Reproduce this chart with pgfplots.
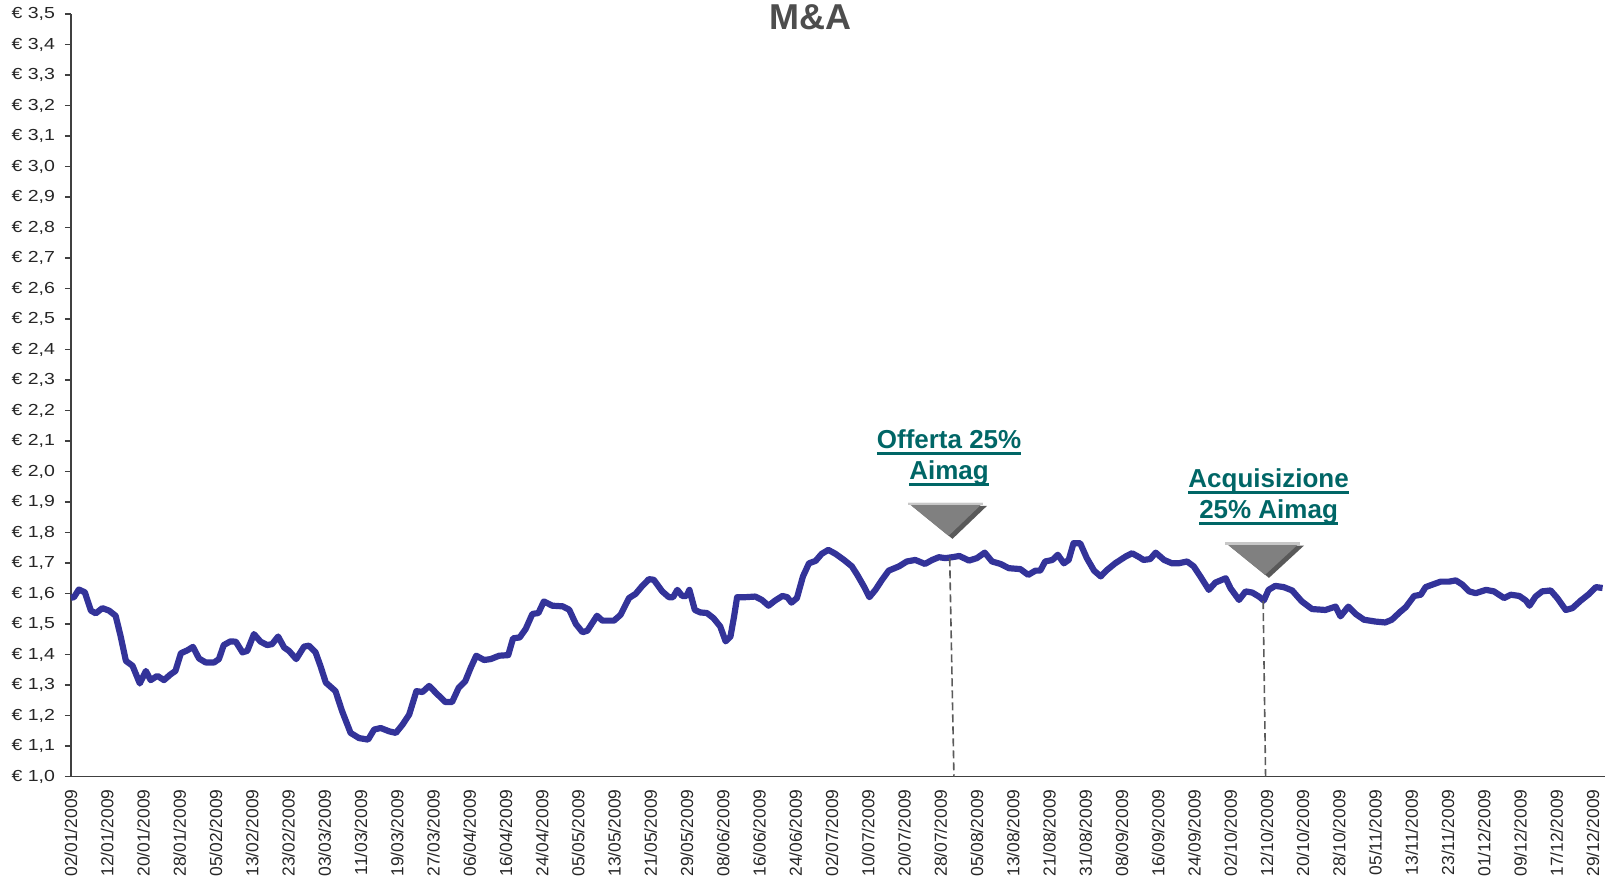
\documentclass[border=0pt]{standalone}
\usepackage{fontspec}
\setmainfont{Liberation Sans}
\usepackage{graphicx}
\usepackage{pgfplots}
\pgfplotsset{compat=1.18}
\usepackage{pgfplotstable}

\definecolor{linea}{RGB}{51,51,153}
\definecolor{verde}{RGB}{0,102,102}
\definecolor{titolo}{RGB}{77,77,77}
\definecolor{tratt}{RGB}{90,90,90}

% underline thick, like the Excel callouts
\newcommand\sott[1]{\setbox0\hbox{#1}\rlap{\rule[-3.4pt]{\wd0}{1.3pt}}\box0}

% trading day index, price
\pgfplotstableread{
x v
0 1.586
0.5 1.588
1.3 1.613
2.3 1.604
3.3 1.544
4.1 1.535
5.2 1.552
6.3 1.544
7.4 1.527
8.2 1.462
9.1 1.379
10.2 1.363
11.4 1.305
12.4 1.346
13.2 1.316
14.3 1.330
15.4 1.316
16.5 1.335
17.3 1.346
18.2 1.404
19.3 1.414
20.2 1.425
21.2 1.387
22.3 1.374
23.7 1.374
24.5 1.385
25.3 1.431
26.4 1.443
27.3 1.442
28.4 1.407
29.2 1.412
30.3 1.467
31.4 1.442
32.5 1.431
33.3 1.434
34.3 1.459
35.3 1.423
36.1 1.412
37.3 1.385
38.6 1.426
39.4 1.429
40.5 1.407
41.3 1.363
42.2 1.308
43.8 1.280
44.9 1.214
46.3 1.143
47.7 1.126
49.2 1.121
50.2 1.154
51.3 1.159
52.7 1.148
53.8 1.143
54.9 1.170
56.0 1.203
57.2 1.280
58.2 1.277
59.3 1.297
60.7 1.269
62.0 1.244
63.1 1.244
64.2 1.291
65.3 1.313
66.2 1.357
67.1 1.396
68.4 1.382
69.5 1.385
70.9 1.396
72.4 1.398
73.2 1.453
74.3 1.456
75.3 1.484
76.4 1.533
77.4 1.536
78.3 1.574
79.7 1.560
81.4 1.558
82.5 1.547
83.6 1.500
84.7 1.473
85.5 1.478
87.1 1.527
88.0 1.511
89.9 1.511
91.0 1.530
92.4 1.585
93.5 1.599
94.6 1.625
95.7 1.647
96.5 1.645
97.9 1.607
99.0 1.588
99.7 1.588
100.4 1.612
101.2 1.592
101.9 1.592
102.4 1.612
103.3 1.546
104.2 1.538
105.3 1.536
106.4 1.519
107.5 1.492
108.4 1.443
109.2 1.459
109.8 1.525
110.3 1.588
111.7 1.588
113.3 1.590
114.4 1.579
115.5 1.560
116.6 1.577
117.8 1.592
118.6 1.588
119.3 1.570
120.2 1.585
121.2 1.656
122.2 1.699
123.3 1.707
124.3 1.730
125.4 1.743
126.6 1.730
128.0 1.710
129.3 1.689
130.2 1.661
131.3 1.623
132.2 1.588
133.2 1.612
134.3 1.645
135.4 1.675
137.1 1.689
138.4 1.705
139.8 1.710
141.4 1.697
142.6 1.710
143.7 1.719
144.8 1.716
145.9 1.719
147.1 1.723
148.7 1.708
150.0 1.716
151.3 1.734
152.5 1.705
153.9 1.697
155.3 1.683
157.2 1.680
158.5 1.661
159.7 1.675
160.5 1.675
161.3 1.705
162.5 1.710
163.4 1.727
164.4 1.699
165.2 1.710
166.0 1.765
167.1 1.765
168.2 1.716
169.4 1.675
170.5 1.656
171.6 1.678
172.9 1.699
174.6 1.721
175.7 1.732
176.8 1.720
177.6 1.710
178.7 1.713
179.6 1.734
181.0 1.710
182.3 1.699
183.4 1.699
184.8 1.705
185.9 1.689
187.0 1.656
188.4 1.612
189.5 1.636
191.2 1.650
192.0 1.617
193.4 1.579
194.5 1.607
195.6 1.603
196.7 1.590
197.5 1.577
198.3 1.612
199.4 1.625
200.8 1.621
202.2 1.610
203.8 1.574
205.5 1.549
207.7 1.546
209.4 1.557
210.2 1.525
211.5 1.557
212.7 1.533
214.1 1.514
216.0 1.508
217.6 1.505
218.7 1.514
220.1 1.540
221.0 1.555
222.4 1.592
223.5 1.596
224.3 1.621
225.4 1.629
226.8 1.639
228.2 1.639
229.3 1.643
230.4 1.629
231.5 1.607
232.6 1.601
234.3 1.612
235.6 1.607
237.3 1.585
238.4 1.596
239.8 1.592
240.9 1.577
241.5 1.560
242.5 1.590
243.6 1.607
245.0 1.610
246.1 1.585
247.5 1.546
248.6 1.552
250.0 1.577
251.4 1.599
252.5 1.621
253.6 1.618
}\prezzo

\begin{document}
\begin{tikzpicture}
\begin{axis}[
  scale only axis,
  width=767.5pt, height=381.5pt,
  xmin=0, xmax=254, ymin=1, ymax=3.5,
  axis lines=left,
  axis line style={-, black!75, line width=0.6pt},
  ytick distance=0.1,
  xtick={0,6,...,252},
  xticklabels={02/01/2009,12/01/2009,20/01/2009,28/01/2009,05/02/2009,13/02/2009,23/02/2009,03/03/2009,11/03/2009,19/03/2009,27/03/2009,06/04/2009,16/04/2009,24/04/2009,05/05/2009,13/05/2009,21/05/2009,29/05/2009,08/06/2009,16/06/2009,24/06/2009,02/07/2009,10/07/2009,20/07/2009,28/07/2009,05/08/2009,13/08/2009,21/08/2009,31/08/2009,08/09/2009,16/09/2009,24/09/2009,02/10/2009,12/10/2009,20/10/2009,28/10/2009,05/11/2009,13/11/2009,23/11/2009,01/12/2009,09/12/2009,17/12/2009,29/12/2009},
  xtick style={draw=none},
  ytick style={black!75, line width=0.6pt},
  tick align=outside,
  major tick length=3pt,
  xticklabel style={rotate=90, anchor=east, font=\fontsize{8.7}{9}\selectfont, text=black!85},
  yticklabel style={font=\fontsize{8}{9}\selectfont, text=black!85, xshift=-1.5pt,
    /pgf/number format/.cd, use comma, fixed, fixed zerofill, precision=1, assume math mode=true},
  yticklabel={\scalebox{1.22}[1]{€ \pgfmathprintnumber{\tick}}},
  clip=false,
]
\addplot[linea, line width=3.1pt, line join=round] table[x=x, y=v] {\prezzo};

% callouts
\draw[tratt, line width=0.8pt, dash pattern=on 4pt off 2pt] (axis cs:145.5,1.715) -- (axis cs:146.2,1.0);
\draw[tratt, line width=0.8pt, dash pattern=on 4pt off 2pt] (axis cs:197.4,1.575) -- (axis cs:197.8,1.0);

\fill[black!65] ([shift={(2pt,-1.5pt)}]axis cs:138.6,1.897) -- ([shift={(2pt,-1.5pt)}]axis cs:151.0,1.897) -- ([shift={(2pt,-1.5pt)}]axis cs:145.3,1.789) -- cycle;
\fill[black!50] (axis cs:138.6,1.897) -- (axis cs:151.0,1.897) -- (axis cs:145.3,1.789) -- cycle;
\draw[black!22, line width=1.3pt] (axis cs:138.6,1.894) -- (axis cs:151.0,1.894);

\fill[black!65] ([shift={(2pt,-1.5pt)}]axis cs:191.1,1.767) -- ([shift={(2pt,-1.5pt)}]axis cs:203.5,1.767) -- ([shift={(2pt,-1.5pt)}]axis cs:197.7,1.661) -- cycle;
\fill[black!50] (axis cs:191.1,1.767) -- (axis cs:203.5,1.767) -- (axis cs:197.7,1.661) -- cycle;
\draw[black!22, line width=1.3pt] (axis cs:191.1,1.764) -- (axis cs:203.5,1.764);

\node[text=verde, font=\fontsize{13}{15.5}\selectfont\bfseries, align=center]
  at (axis cs:145.4,2.045) {\sott{Offerta 25\%}\\\sott{Aimag}};
\node[text=verde, font=\fontsize{13}{15.5}\selectfont\bfseries, align=center]
  at (axis cs:198.3,1.918) {\sott{Acquisizione}\\\sott{25\% Aimag}};

\node[text=titolo, font=\fontsize{18}{20}\selectfont\bfseries] at (axis cs:122.5,3.488) {M\&A};
\end{axis}
\pgfresetboundingbox
\path[use as bounding box] ([shift={(-35.5pt,-50pt)}]current axis.south west) rectangle ([shift={(0.5pt,7pt)}]current axis.north east);
\end{tikzpicture}
\end{document}
